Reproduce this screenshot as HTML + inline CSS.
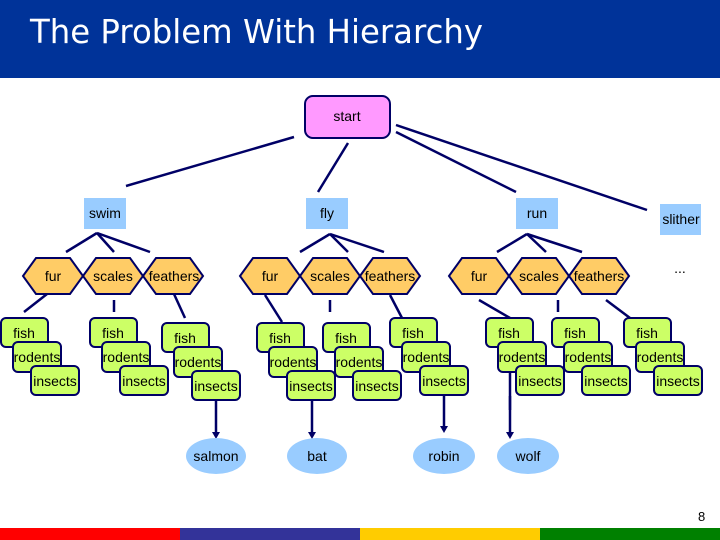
<!DOCTYPE html>
<html><head><meta charset="utf-8"><style>
html,body{margin:0;padding:0;background:#fff}
svg{display:block}
text{font-family:"Liberation Sans",Arial,sans-serif;font-size:14px;fill:#000}
</style></head><body>
<svg width="720" height="540" viewBox="0 0 720 540" xmlns="http://www.w3.org/2000/svg">
<rect x="0" y="0" width="720" height="78" fill="#003399"/>
<text x="30" y="43" style="font-family:'DejaVu Sans',sans-serif;font-size:33px;fill:#fff" textLength="453" lengthAdjust="spacingAndGlyphs">The Problem With Hierarchy</text>

<g stroke="#000066" stroke-width="2.5" fill="none">
<line x1="294" y1="137" x2="126" y2="186"/>
<line x1="348" y1="143" x2="318" y2="192"/>
<line x1="396" y1="132" x2="516" y2="192"/>
<line x1="396" y1="125" x2="647" y2="210"/>
<!-- apex lines -->
<line x1="97" y1="233" x2="66" y2="252"/><line x1="97" y1="233" x2="114" y2="252"/><line x1="97" y1="233" x2="150" y2="252"/>
<line x1="330" y1="234" x2="300" y2="252"/><line x1="330" y1="234" x2="348" y2="252"/><line x1="330" y1="234" x2="384" y2="252"/>
<line x1="527" y1="234" x2="497" y2="252"/><line x1="527" y1="234" x2="546" y2="252"/><line x1="527" y1="234" x2="582" y2="252"/>
<!-- hex to stacks -->
<line x1="47" y1="294" x2="24" y2="312"/><line x1="114" y1="300" x2="114" y2="312"/><line x1="174" y1="294" x2="185" y2="318"/>
<line x1="265" y1="295" x2="282" y2="322"/><line x1="330" y1="300" x2="330" y2="312"/><line x1="390" y1="295" x2="402" y2="318"/>
<line x1="479" y1="300" x2="510" y2="318"/><line x1="558" y1="300" x2="558" y2="312"/><line x1="606" y1="300" x2="630" y2="318"/>
<!-- arrows to leaves -->
<line x1="216" y1="398" x2="216" y2="434"/>
<line x1="312" y1="398" x2="312" y2="434"/>
<line x1="444" y1="396" x2="444" y2="428"/>
<line x1="510" y1="370" x2="510" y2="434"/>
</g>
<g fill="#000066">
<polygon points="212,432 220,432 216,439"/>
<polygon points="308,432 316,432 312,439"/>
<polygon points="440,426 448,426 444,433"/>
<polygon points="506,432 514,432 510,439"/>
</g>

<rect x="305" y="96" width="85" height="42" rx="8" fill="#ff99ff" stroke="#000066" stroke-width="2"/>
<text x="347" y="121" text-anchor="middle">start</text>

<g fill="#99ccff">
<rect x="84" y="198" width="42" height="31"/><rect x="306" y="198" width="42" height="31"/>
<rect x="516" y="198" width="42" height="31"/><rect x="660" y="204" width="41" height="31"/>
</g>
<text x="105" y="218" text-anchor="middle">swim</text>
<text x="327" y="218" text-anchor="middle">fly</text>
<text x="537" y="218" text-anchor="middle">run</text>
<text x="681" y="224" text-anchor="middle">slither</text>

<g fill="#ffcc66" stroke="#000066" stroke-width="2">
<polygon points="23,276 36,258 70,258 83,276 70,294 36,294"/>
<polygon points="83,276 96,258 130,258 143,276 130,294 96,294"/>
<polygon points="143,276 156,258 190,258 203,276 190,294 156,294"/>
<polygon points="240,276 253,258 287,258 300,276 287,294 253,294"/>
<polygon points="300,276 313,258 347,258 360,276 347,294 313,294"/>
<polygon points="360,276 373,258 407,258 420,276 407,294 373,294"/>
<polygon points="449,276 462,258 496,258 509,276 496,294 462,294"/>
<polygon points="509,276 522,258 556,258 569,276 556,294 522,294"/>
<polygon points="569,276 582,258 616,258 629,276 616,294 582,294"/>
</g>
<g text-anchor="middle">
<text x="53" y="281">fur</text><text x="113" y="281">scales</text><text x="174" y="281">feathers</text>
<text x="270" y="281">fur</text><text x="330" y="281">scales</text><text x="390" y="281">feathers</text>
<text x="479" y="281">fur</text><text x="539" y="281">scales</text><text x="599" y="281">feathers</text>
<text x="680" y="273">...</text>
</g>

<defs>
<g id="stk">
<rect x="0" y="0" width="47" height="29" rx="5" fill="#ccff66" stroke="#000066" stroke-width="2"/>
<text x="23" y="20" text-anchor="middle">fish</text>
<rect x="12" y="24" width="48" height="30" rx="5" fill="#ccff66" stroke="#000066" stroke-width="2"/>
<text x="36" y="44" text-anchor="middle">rodents</text>
<rect x="30" y="48" width="48" height="29" rx="5" fill="#ccff66" stroke="#000066" stroke-width="2"/>
<text x="54" y="68" text-anchor="middle">insects</text>
</g>
</defs>
<use href="#stk" x="1" y="318"/>
<use href="#stk" x="90" y="318"/>
<use href="#stk" x="162" y="323"/>
<use href="#stk" x="257" y="323"/>
<use href="#stk" x="323" y="323"/>
<use href="#stk" x="390" y="318"/>
<use href="#stk" x="486" y="318"/>
<use href="#stk" x="552" y="318"/>
<use href="#stk" x="624" y="318"/>
<line x1="510" y1="396" x2="510" y2="410" stroke="#000066" stroke-width="2.5"/>

<g fill="#99ccff">
<ellipse cx="216" cy="456" rx="30" ry="18"/>
<ellipse cx="317" cy="456" rx="30" ry="18"/>
<ellipse cx="444" cy="456" rx="31" ry="18"/>
<ellipse cx="528" cy="456" rx="31" ry="18"/>
</g>
<g text-anchor="middle">
<text x="216" y="461">salmon</text><text x="317" y="461">bat</text>
<text x="444" y="461">robin</text><text x="528" y="461">wolf</text>
</g>

<text x="698" y="521" style="font-size:13px">8</text>
<rect x="0" y="528" width="180" height="12" fill="#ff0000"/>
<rect x="180" y="528" width="180" height="12" fill="#333399"/>
<rect x="360" y="528" width="180" height="12" fill="#ffcc00"/>
<rect x="540" y="528" width="180" height="12" fill="#008000"/>
</svg>
</body></html>
